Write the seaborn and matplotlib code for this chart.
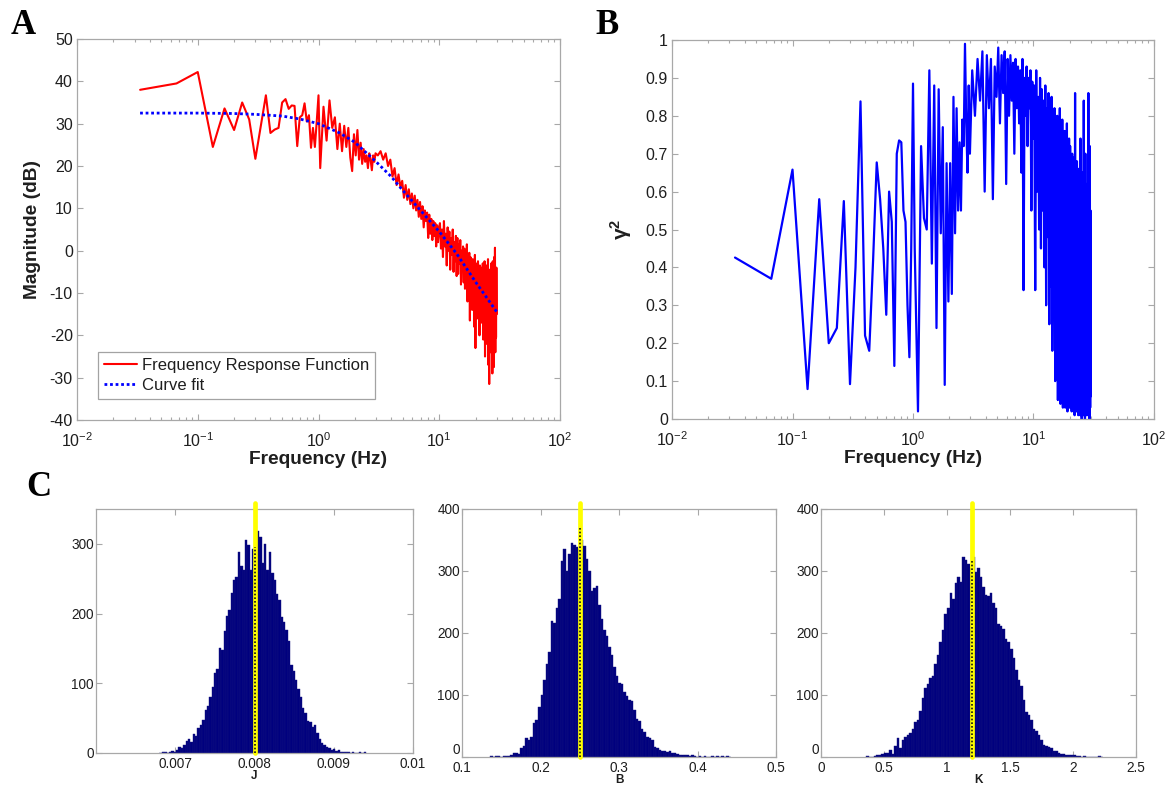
import numpy as np
import pandas as pd
import matplotlib
matplotlib.use("Agg")
import matplotlib.pyplot as plt
import seaborn as sns
from matplotlib.ticker import LogLocator, NullFormatter, FormatStrFormatter

# ---------------- data ----------------
# FFT bin indices (frequency = bin / 30 Hz)
bins_seg1 = list(range(1, 31))
bins_seg2 = list(range(31, 90, 2))
bins_seg3 = list(range(93, 299, 5))
bins_seg4 = list(range(304, 899, 6))
freq_bins = bins_seg1 + bins_seg2 + bins_seg3 + bins_seg4

frf_seg1 = [38.0, 39.5, 42.2, 24.5, 33.6, 28.5, 35.0, 31.0, 21.7, 29.5,
            36.7, 27.8, 28.6, 29.0, 35.0, 35.8, 33.5, 34.3, 34.2, 24.7,
            31.5, 32.0, 34.8, 30.5, 32.0, 24.3, 29.0, 24.5, 30.5, 36.7]
frf_seg2 = [19.5, 34.0, 26.0, 35.5, 29.0, 31.5, 24.0, 30.0, 23.5, 29.5,
            24.5, 29.0, 22.0, 18.8, 27.5, 22.5, 28.5, 21.5, 25.5, 20.5,
            24.0, 21.0, 22.5, 19.5, 23.0, 21.5, 19.0, 22.5, 21.0, 23.0]
frf_seg3 = [22.5, 23.5, 21.5, 23.0, 20.0, 21.5, 17.5, 19.5, 15.5, 18.0,
            15.0, 16.5, 12.5, 15.5, 12.0, 14.5, 11.0, 13.5, 10.0, 13.0,
            9.5, 12.0, 8.0, 11.5, 7.5, 10.5, 5.5, 9.5, 7.0, 9.0,
            3.0, 8.5, 4.0, 7.5, 2.5, 7.0, 3.5, 6.5, 1.0, 6.0, 2.0, 5.0]
frf_seg4 = [6.5, 0.5, 5.0, -1.5, 7.0, 1.0, 4.0, -3.5, 5.5, 0.0,
            4.5, -4.5, 3.0, -1.0, 5.0, -5.0, 2.0, -2.5, 3.5, -6.0,
            3.0, -5.5, 1.5, -3.0, 2.5, -8.0, 0.0, -4.5, 1.0, -7.5,
            0.5, -9.0, -1.5, -6.0, 1.5, -12.0, -2.0, -7.0, -0.5, -16.5,
            -1.5, -10.0, -3.0, -14.0, -2.0, -8.5, -4.0, -18.0, -1.0, -23.0,
            -3.0, -12.0, -4.5, -16.0, -2.5, -10.5, -5.0, -20.0, -3.5, -13.0,
            -4.0, -17.0, -5.5, -12.5, -3.0, -21.0, -6.0, -14.5, -2.5, -25.0,
            -5.0, -16.5, -3.5, -22.0, -6.5, -13.5, -2.0, -27.0, -7.0, -31.5,
            -4.5, -19.0, -8.0, -24.0, -3.0, -16.0, -6.5, -29.0, -2.5, -21.5,
            -9.0, -27.5, -1.5, -18.0, 0.7, -24.0, -5.5, -20.5, -4.0, -15.0]
frf_db = frf_seg1 + frf_seg2 + frf_seg3 + frf_seg4

fit_hz = [0.0333, 0.1, 0.2, 0.3, 0.5, 0.7, 1.0, 1.5, 2.0, 3.0, 4.0, 5.0,
          7.0, 10.0, 14.0, 20.0, 25.0, 30.0]
fit_db = [32.5, 32.5, 32.4, 32.2, 31.8, 31.1, 30.0, 27.8, 25.6, 21.0, 17.5,
          14.2, 9.5, 4.5, -0.8, -7.4, -11.3, -14.5]

coh_seg1 = [0.426, 0.37, 0.658, 0.079, 0.58, 0.20, 0.24, 0.575, 0.092, 0.40,
            0.838, 0.22, 0.18, 0.42, 0.677, 0.58, 0.45, 0.275, 0.60, 0.52,
            0.14, 0.70, 0.735, 0.73, 0.55, 0.52, 0.30, 0.163, 0.45, 0.885]
coh_seg2 = [0.45, 0.02, 0.72, 0.53, 0.50, 0.92, 0.41, 0.88, 0.24, 0.87,
            0.49, 0.77, 0.09, 0.675, 0.31, 0.675, 0.33, 0.85, 0.49, 0.82,
            0.55, 0.73, 0.55, 0.79, 0.72, 0.99, 0.78, 0.65, 0.88, 0.70]
coh_seg3 = [0.92, 0.80, 0.95, 0.84, 0.97, 0.60, 0.96, 0.82, 0.95, 0.58,
            0.93, 0.85, 0.98, 0.78, 0.96, 0.86, 0.97, 0.62, 0.95, 0.80,
            0.96, 0.84, 0.94, 0.70, 0.95, 0.82, 0.93, 0.78, 0.92, 0.65,
            0.95, 0.34, 0.90, 0.80, 0.93, 0.72, 0.90, 0.82, 0.92, 0.55,
            0.89, 0.74]
coh_seg4 = [0.88, 0.34, 0.92, 0.60, 0.85, 0.50, 0.90, 0.45, 0.87, 0.55,
            0.84, 0.40, 0.88, 0.30, 0.82, 0.48, 0.86, 0.25, 0.80, 0.35,
            0.85, 0.18, 0.78, 0.30, 0.82, 0.10, 0.76, 0.22, 0.80, 0.05,
            0.77, 0.12, 0.82, 0.04, 0.74, 0.15, 0.79, 0.03, 0.72, 0.08,
            0.76, 0.03, 0.70, 0.10, 0.78, 0.02, 0.68, 0.06, 0.74, 0.03,
            0.72, 0.05, 0.66, 0.02, 0.70, 0.08, 0.62, 0.03, 0.69, 0.01,
            0.86, 0.04, 0.64, 0.02, 0.68, 0.06, 0.58, 0.01, 0.66, 0.03,
            0.62, 0.01, 0.74, 0.04, 0.56, 0.00, 0.65, 0.02, 0.52, 0.01,
            0.84, 0.03, 0.60, 0.00, 0.70, 0.02, 0.55, 0.01, 0.62, 0.04,
            0.58, 0.01, 0.86, 0.02, 0.62, 0.00, 0.72, 0.03, 0.55, 0.06]
coherence = coh_seg1 + coh_seg2 + coh_seg3 + coh_seg4

# histograms: first bin left edge, bin width, counts
j_start, j_width = 0.00680, 0.00003
j_counts = [0, 1, 1, 0, 2, 3, 2, 5, 8, 7, 12, 17, 20, 16, 27, 25, 36, 40, 48, 62,
            67, 80, 95, 115, 120, 150, 148, 175, 196, 205, 230, 248, 252, 288, 268,
            262, 305, 298, 262, 292, 300, 318, 310, 272, 300, 262, 288, 258, 248, 228,
            220, 195, 188, 176, 160, 126, 118, 104, 92, 80, 64, 58, 46, 44, 38, 40,
            28, 20, 15, 12, 9, 7, 5, 6, 3, 4, 2, 2, 1, 1, 0, 1, 0, 0, 1, 0, 1]
b_start, b_width = 0.1360, 0.0032
b_counts = [1, 0, 1, 1, 0, 1, 2, 2, 4, 7, 6, 5, 14, 18, 30, 28, 33, 55, 60, 80,
            100, 125, 150, 170, 220, 216, 240, 255, 316, 335, 300, 328, 345, 342, 338,
            336, 350, 340, 320, 300, 268, 272, 276, 245, 222, 205, 195, 178, 165, 145,
            130, 120, 118, 105, 98, 92, 90, 76, 62, 58, 45, 40, 33, 30, 28, 16, 14, 12,
            10, 9, 8, 9, 7, 6, 5, 4, 4, 3, 3, 2, 4, 1, 0, 1, 0, 1, 0, 0, 1, 0, 1, 0,
            1, 0, 1, 0]
k_start, k_width = 0.36, 0.02
k_counts = [1, 0, 0, 2, 3, 4, 5, 7, 6, 12, 5, 18, 30, 14, 28, 32, 35, 38, 45, 56,
            60, 75, 95, 112, 118, 128, 130, 150, 165, 185, 205, 230, 240, 265, 255,
            280, 290, 282, 322, 318, 312, 305, 322, 298, 305, 290, 275, 262, 260, 265,
            248, 240, 215, 212, 206, 190, 186, 175, 160, 140, 125, 115, 92, 72, 68, 60,
            45, 42, 35, 28, 20, 18, 16, 14, 10, 9, 6, 5, 5, 4, 4, 4, 3, 2, 1, 0, 1, 0,
            0, 0, 0, 0, 2, 0]
hist_names = ["J", "B", "K"]
hist_marker = [0.008, 0.25, 1.2]
hist_marker_top = [295, 370, 320]

# ---------------- style ----------------
sns.set_theme(style="white")
plt.rcParams["font.family"] = ["Liberation Sans", "DejaVu Sans"]
plt.rcParams["mathtext.fontset"] = "custom"
plt.rcParams["mathtext.rm"] = "Liberation Sans"
plt.rcParams["mathtext.it"] = "Liberation Sans:italic"
plt.rcParams["mathtext.bf"] = "Liberation Sans:bold"
plt.rcParams["axes.unicode_minus"] = False

SPINE = "#a8a8a8"
TXT = "#1e1e1e"


def style_axes(ax, fs):
    for s in ax.spines.values():
        s.set_color(SPINE)
        s.set_linewidth(0.9)
        s.set_visible(True)
    ax.tick_params(which="both", direction="in", bottom=True, left=True,
                   top=True, right=True, colors=SPINE, labelcolor=TXT,
                   labelsize=fs, width=0.8)
    ax.tick_params(which="major", length=4)
    ax.tick_params(which="minor", length=2.3)


fig = plt.figure(figsize=(11.68, 7.86), dpi=100)
W, H = 1168.0, 786.0


def rect(l, t, r, b):
    return [l / W, 1 - b / H, (r - l) / W, (b - t) / H]


freq_hz = np.array(freq_bins) / 30.0

# ---------------- panel A ----------------
axA = fig.add_axes(rect(77, 39, 560, 420))
dfA = pd.DataFrame({"f": freq_hz, "mag": frf_db})
sns.lineplot(data=dfA, x="f", y="mag", ax=axA, color="#ff0000", lw=1.5,
             estimator=None, sort=False, label="Frequency Response Function")
sns.lineplot(x=fit_hz, y=fit_db, ax=axA, color="#0000ff", lw=2.0,
             linestyle=(0, (1, 1)), estimator=None, sort=False, label="Curve fit")
axA.set_xscale("log")
axA.set_xlim(1e-2, 1e2)
axA.set_ylim(-40, 50)
axA.set_yticks(np.arange(-40, 51, 10))
axA.xaxis.set_major_locator(LogLocator(base=10, numticks=10))
axA.xaxis.set_minor_locator(LogLocator(base=10, subs=np.arange(2, 10), numticks=20))
axA.xaxis.set_minor_formatter(NullFormatter())
style_axes(axA, 11.5)
axA.tick_params(axis="y", pad=3)
axA.tick_params(axis="x", pad=8)
axA.set_xlabel("Frequency (Hz)", fontsize=13.8, fontweight="bold", color=TXT, labelpad=1)
axA.set_ylabel("Magnitude (dB)", fontsize=13.8, fontweight="bold", color=TXT, labelpad=6)
leg = axA.legend(loc="lower left", bbox_to_anchor=(0.043, 0.055), borderaxespad=0,
                 frameon=True, fancybox=False, edgecolor="#8c8c8c", fontsize=12,
                 labelspacing=0.3, borderpad=0.35, handletextpad=0.3, handlelength=2.0)
leg.get_frame().set_linewidth(0.9)
for t in leg.get_texts():
    t.set_color(TXT)

# ---------------- panel B ----------------
axB = fig.add_axes(rect(672, 40, 1154, 419))
dfB = pd.DataFrame({"f": freq_hz, "coh": coherence})
sns.lineplot(data=dfB, x="f", y="coh", ax=axB, color="#0000ff", lw=1.6,
             estimator=None, sort=False)
axB.set_xscale("log")
axB.set_xlim(1e-2, 1e2)
axB.set_ylim(0, 1)
axB.set_yticks(np.round(np.arange(0, 1.01, 0.1), 1))
axB.yaxis.set_major_formatter(FormatStrFormatter("%g"))
axB.xaxis.set_major_locator(LogLocator(base=10, numticks=10))
axB.xaxis.set_minor_locator(LogLocator(base=10, subs=np.arange(2, 10), numticks=20))
axB.xaxis.set_minor_formatter(NullFormatter())
style_axes(axB, 11.5)
axB.tick_params(axis="y", pad=3)
axB.tick_params(axis="x", pad=8)
axB.set_xlabel("Frequency (Hz)", fontsize=13.8, fontweight="bold", color=TXT, labelpad=1)
axB.set_ylabel("γ$^{\\mathbf{2}}$", fontsize=15, fontweight="bold", color=TXT, labelpad=8)

# ---------------- panel C ----------------
hist_specs = [
    (rect(96, 509, 413, 753), j_start, j_width, j_counts, (0.006, 0.01),
     [0.007, 0.008, 0.009, 0.01], (0, 350), [0, 100, 200, 300]),
    (rect(462, 509, 776, 757), b_start, b_width, b_counts, (0.1, 0.5),
     [0.1, 0.2, 0.3, 0.4, 0.5], (0, 400), [0, 100, 200, 300, 400]),
    (rect(821, 509, 1136, 757), k_start, k_width, k_counts, (0, 2.5),
     [0, 0.5, 1, 1.5, 2, 2.5], (0, 400), [0, 100, 200, 300, 400]),
]
for i, (r, start, width, counts, xl, xt, yl, yt) in enumerate(hist_specs):
    ax = fig.add_axes(r)
    n = len(counts)
    centers = start + width * (np.arange(n) + 0.5)
    sns.histplot(x=centers, weights=counts, binwidth=width,
                 binrange=(start, start + n * width), ax=ax,
                 color="#00007e", alpha=1.0, edgecolor="#14147e", linewidth=0.3)
    ax.set_xlim(*xl)
    ax.set_ylim(*yl)
    ax.set_xticks(xt)
    ax.set_yticks(yt)
    ax.xaxis.set_major_formatter(FormatStrFormatter("%g"))
    style_axes(ax, 9.8)
    ax.tick_params(axis="y", pad=1.5)
    ax.tick_params(axis="x", pad=3)
    ax.set_ylabel("")
    ax.set_xlabel(hist_names[i], fontsize=8.5, fontweight="bold", color=TXT, labelpad=-1)
    if i > 0:
        # lift the "0" count label so it sits just above the first x label
        ax.yaxis.get_major_ticks()[0].label1.set_verticalalignment("bottom")
    ax.axvline(hist_marker[i], ymin=0, ymax=1.025, color="#ffff00", lw=3.4,
               clip_on=False, zorder=5)
    ax.plot([hist_marker[i], hist_marker[i]], [0, hist_marker_top[i]],
            color="#111111", lw=1.2, linestyle=(0, (1, 1.2)), zorder=6)

# ---------------- panel letters ----------------
for txt, x, y in [("A", 23, 25), ("B", 607, 26), ("C", 39, 487)]:
    fig.text(x / W, 1 - y / H, txt, fontsize=25, fontweight="bold",
             family="Liberation Serif", ha="center", va="center", color="black")

fig.savefig("out.png", dpi=100, facecolor="white")
